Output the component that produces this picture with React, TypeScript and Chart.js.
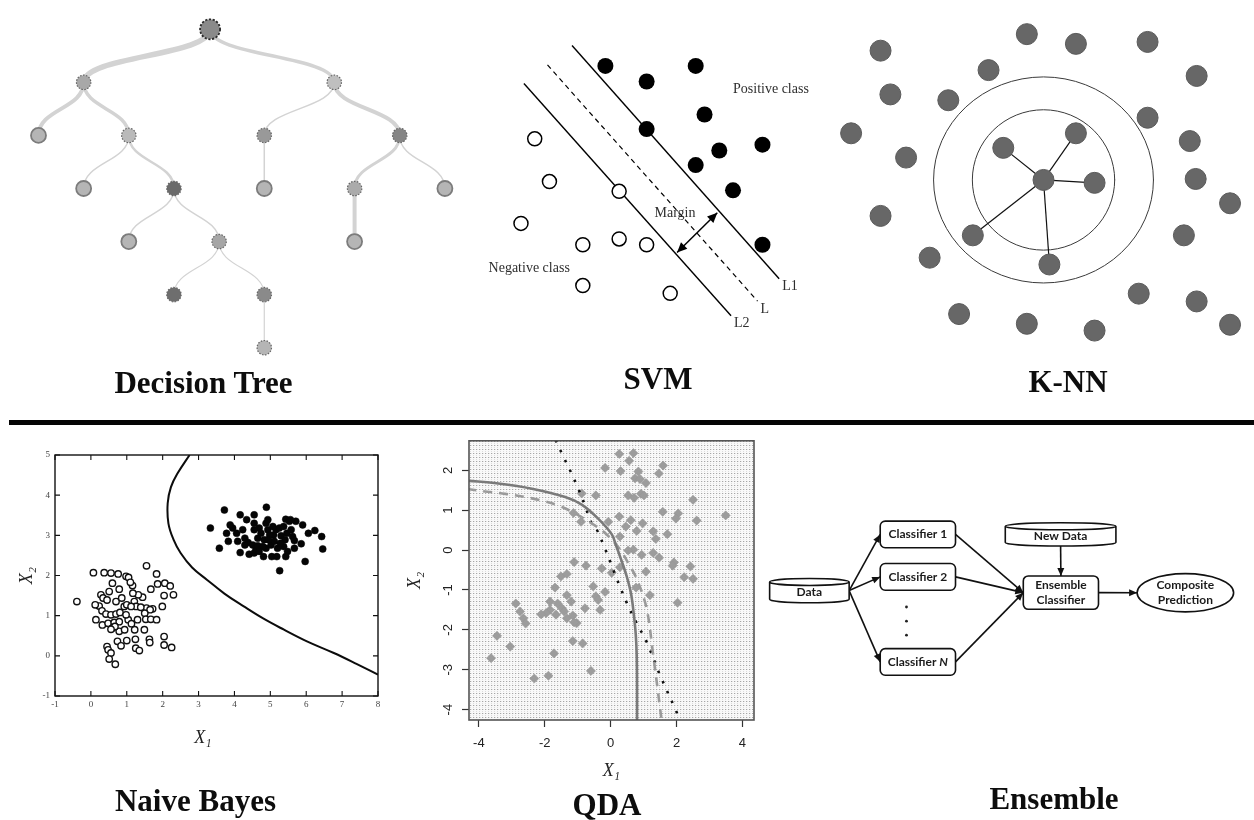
import React, { useEffect, useRef } from "react";
import { Chart, registerables } from "chart.js";

Chart.register(...registerables);
Chart.defaults.font.family = '"Liberation Sans", Arial, sans-serif';

/* ============================ DATA ============================ */

// ---- Decision tree: slot (column), depth level, parent, branch weight, leaf flag, node shade (0 black … 1 white)
const treeNodeSlot = [3.8, 1, 6.55, 0, 2, 5, 8, 1, 3, 5, 7, 9, 2, 4, 7, 3, 5, 5];
const treeNodeDepth = [0, 1, 1, 2, 2, 2, 2, 3, 3, 3, 3, 3, 4, 4, 4, 5, 5, 6];
const treeNodeParent = [-1, 0, 0, 1, 1, 2, 2, 4, 4, 5, 6, 6, 8, 8, 10, 13, 13, 16];
const treeBranchWeight = [0, 5.5, 3.5, 4, 3.5, 1.5, 4, 1.5, 2.5, 1.5, 3, 1.5, 1.5, 1.5, 4, 1.2, 1.2, 1.2];
const treeNodeIsLeaf = [0, 0, 0, 1, 0, 0, 0, 1, 0, 1, 0, 1, 1, 0, 1, 0, 0, 0];
const treeNodeShade = [0.54, 0.66, 0.75, 0.71, 0.73, 0.6, 0.52, 0.71, 0.42, 0.71, 0.67, 0.71, 0.71, 0.65, 0.71, 0.43, 0.54, 0.71];

// ---- SVM (feature space x1, x2)
const svmPositive = [[12.5, 27.4], [21.7, 27.4], [16.7, 25.8], [22.6, 22.4], [16.7, 20.9], [24.1, 18.7], [28.5, 19.3], [21.7, 17.2], [25.5, 14.6], [28.5, 9.0]];
const svmNegative = [[5.3, 19.9], [6.8, 15.5], [13.9, 14.5], [3.9, 11.2], [10.2, 9.0], [13.9, 9.6], [16.7, 9.0], [10.2, 4.8], [19.1, 4.0]];
const svmLineNames = ["L1", "L", "L2"];
const svmLineFrom = [[9.1, 29.5], [6.6, 27.5], [4.2, 25.6]];
const svmLineTo = [[30.2, 5.5], [28.0, 3.2], [25.3, 1.7]];
const svmNotes = ["Positive class", "Negative class", "Margin"];
const svmNoteAt = [[25.5, 25.0], [0.6, 6.6], [17.5, 12.2]];
const svmMarginFrom = [23.9, 12.3];
const svmMarginTo = [19.8, 8.2];

// ---- K-NN (relative to the query point)
const knnOthers = [[-16.6, 13.3], [-1.7, 15.0], [3.3, 14.0], [10.6, 14.2], [-5.6, 11.3], [15.6, 10.7], [-15.6, 8.8], [-9.7, 8.2], [10.6, 6.4], [-19.6, 4.8], [14.9, 4.0], [-14.0, 2.3], [15.5, 0.1], [19.0, -2.4], [-16.6, -3.7], [14.3, -5.7], [-11.6, -8.0], [9.7, -11.7], [15.6, -12.5], [-8.6, -13.8], [-1.7, -14.8], [5.2, -15.5], [19.0, -14.9]];
const knnNeighbors = [[3.3, 4.8], [-4.1, 3.3], [5.2, -0.3], [-7.2, -5.7], [0.6, -8.7]];
const knnQuery = [0, 0];
const knnRadii = [[7.25, 7.22], [11.2, 10.6]];

// ---- Naive Bayes (X1, X2)
const nbClassOpen = [[-0.39, 1.35], [0.07, 2.07], [0.37, 2.07], [0.56, 2.06], [0.76, 2.04], [0.98, 1.98], [1.05, 1.95], [1.55, 2.24], [1.83, 2.04], [1.86, 1.79], [2.06, 1.81], [2.21, 1.74], [2.3, 1.52], [2.04, 1.5], [1.67, 1.66], [1.99, 1.23], [1.72, 1.17], [1.55, 1.19], [1.44, 1.46], [1.32, 1.52], [1.17, 1.56], [1.16, 1.75], [1.1, 1.83], [0.79, 1.66], [0.6, 1.81], [0.51, 1.6], [0.28, 1.52], [0.34, 1.44], [0.45, 1.39], [0.7, 1.35], [0.86, 1.44], [0.93, 1.23], [1.0, 1.27], [1.21, 1.35], [1.26, 1.23], [1.39, 1.21], [1.65, 1.15], [1.5, 1.06], [0.23, 1.24], [0.12, 1.27], [0.31, 1.12], [0.42, 1.04], [0.56, 1.02], [0.7, 1.04], [0.81, 1.08], [0.14, 0.9], [0.32, 0.77], [0.48, 0.81], [0.65, 0.83], [0.79, 0.85], [1.04, 0.9], [1.3, 0.9], [1.53, 0.91], [1.67, 0.91], [1.83, 0.9], [0.6, 0.69], [0.79, 0.61], [0.94, 0.65], [1.22, 0.65], [1.49, 0.65], [0.67, 0.73], [1.13, 0.8], [1.63, 0.41], [1.64, 0.33], [2.04, 0.48], [2.04, 0.27], [2.25, 0.21], [1.24, 0.41], [1.0, 0.38], [0.74, 0.36], [0.84, 0.25], [0.45, 0.23], [0.48, 0.15], [1.25, 0.19], [1.35, 0.13], [0.56, 0.07], [0.51, -0.08], [0.68, -0.21], [0.56, 0.66], [0.98, 1.02], [1.12, 1.23]];
const nbClassFilled = [[3.33, 3.18], [3.58, 2.68], [3.72, 3.63], [4.16, 3.51], [4.55, 3.51], [4.89, 3.7], [4.34, 3.39], [3.78, 3.05], [3.95, 3.18], [4.06, 3.05], [3.83, 2.85], [4.09, 2.85], [4.29, 2.93], [4.38, 2.82], [4.29, 2.76], [4.16, 2.57], [4.41, 2.53], [4.55, 2.56], [4.6, 2.64], [4.65, 2.93], [4.69, 3.18], [4.74, 3.05], [4.88, 3.3], [4.93, 3.14], [4.83, 2.89], [4.88, 2.68], [4.81, 2.47], [5.02, 2.76], [5.04, 2.47], [5.09, 3.01], [5.16, 3.14], [5.25, 3.18], [5.3, 2.99], [5.2, 2.68], [5.26, 2.12], [5.41, 2.89], [5.43, 3.4], [5.46, 3.05], [5.48, 2.6], [5.43, 2.47], [5.53, 3.35], [5.58, 3.14], [5.62, 2.97], [5.67, 2.87], [5.71, 3.35], [5.9, 3.26], [5.86, 2.79], [5.97, 2.35], [6.06, 3.05], [6.24, 3.12], [6.43, 2.97], [6.46, 2.66], [5.11, 2.85], [4.98, 3.01], [4.55, 3.14], [4.23, 3.14], [4.51, 2.76], [4.65, 2.74], [5.37, 2.72], [5.18, 2.47], [5.67, 2.68], [4.55, 3.3], [4.93, 3.39], [5.28, 2.8], [4.79, 2.72], [3.88, 3.26], [4.95, 2.89], [5.07, 3.22], [5.37, 3.22], [5.56, 3.39], [4.69, 2.6]];
const nbBoundaryX1 = [2.75, 2.42, 2.23, 2.14, 2.16, 2.3, 2.5, 2.82, 3.24, 3.72, 4.26, 4.8, 5.38, 6.02, 6.77, 7.4, 8.0];
const nbBoundaryX2 = [5.0, 4.55, 4.2, 3.8, 3.3, 2.9, 2.56, 2.2, 1.89, 1.55, 1.23, 0.93, 0.65, 0.36, 0.07, -0.2, -0.47];
const nbTicksX1 = [-1, 0, 1, 2, 3, 4, 5, 6, 7, 8];
const nbTicksX2 = [-1, 0, 1, 2, 3, 4, 5];

// ---- QDA (X1, X2)
const qdaPoints = [[0.26, 2.41], [0.69, 2.43], [0.56, 2.24], [-0.17, 2.06], [0.3, 1.98], [0.84, 1.97], [1.59, 2.12], [1.46, 1.92], [0.74, 1.8], [0.89, 1.78], [1.07, 1.68], [-0.88, 1.42], [-0.45, 1.37], [0.53, 1.37], [0.71, 1.31], [0.92, 1.41], [1.01, 1.37], [2.5, 1.26], [1.58, 0.96], [2.05, 0.92], [1.98, 0.79], [2.61, 0.74], [3.49, 0.87], [-1.13, 0.93], [-0.9, 0.71], [-0.07, 0.71], [0.26, 0.84], [0.61, 0.75], [0.46, 0.59], [0.97, 0.67], [0.79, 0.48], [1.29, 0.47], [1.72, 0.4], [1.37, 0.28], [0.28, 0.34], [0.69, 0.01], [0.53, -0.01], [1.29, -0.07], [1.47, -0.19], [0.94, -0.12], [1.92, -0.31], [1.88, -0.39], [2.42, -0.41], [2.23, -0.68], [2.5, -0.72], [1.07, -0.54], [0.28, -0.43], [0.03, -0.57], [-0.27, -0.46], [-1.11, -0.3], [-0.75, -0.39], [0.77, -0.94], [1.19, -1.13], [2.03, -1.32], [-1.51, -0.66], [-1.33, -0.6], [-1.69, -0.94], [-1.33, -1.13], [-0.53, -0.91], [-0.17, -1.05], [-0.45, -1.16], [-0.38, -1.25], [-1.84, -1.29], [-1.61, -1.34], [-1.2, -1.29], [-1.84, -1.5], [-1.48, -1.46], [-1.41, -1.54], [-1.66, -1.62], [-1.33, -1.71], [-1.15, -1.64], [-1.03, -1.83], [-1.96, -1.58], [-2.11, -1.61], [-0.78, -1.46], [-0.32, -1.5], [-2.88, -1.34], [-2.75, -1.54], [-2.65, -1.71], [-2.58, -1.84], [-3.45, -2.15], [-3.05, -2.42], [-3.63, -2.71], [-1.15, -2.28], [-0.85, -2.34], [-1.72, -2.59], [-0.6, -3.03], [-2.32, -3.22], [-1.89, -3.15], [-1.11, -1.81]];
const qdaSolidX1 = [-4.35, -3.41, -2.39, -1.38, -0.88, -0.38, 0.03, 0.16, 0.28, 0.48, 0.62, 0.7, 0.76, 0.79, 0.8, 0.8];
const qdaSolidX2 = [1.74, 1.67, 1.54, 1.33, 1.14, 0.79, 0.4, 0.12, -0.15, -0.64, -1.1, -1.6, -2.1, -2.63, -3.4, -4.3];
const qdaDashedX1 = [-4.35, -3.81, -3.2, -2.6, -2.09, -1.59, -1.08, -0.58, -0.17, 0.28, 0.55, 0.79, 1.09, 1.29, 1.42, 1.55];
const qdaDashedX2 = [1.53, 1.47, 1.41, 1.33, 1.24, 1.12, 0.92, 0.67, 0.43, 0.02, -0.35, -0.72, -1.46, -2.63, -3.45, -4.3];
const qdaDottedX1 = [-1.67, -1.44, -1.2, -0.98, -0.78, -0.6, -0.42, -0.19, 0.01, 0.2, 0.53, 0.8, 1.09, 1.49, 2.0, 2.12];
const qdaDottedX2 = [2.76, 2.35, 1.94, 1.53, 1.12, 0.71, 0.51, 0.07, -0.34, -0.75, -1.4, -1.85, -2.3, -3.12, -4.06, -4.3];
const qdaTicksX1 = [-4, -2, 0, 2, 4];
const qdaTicksX2 = [-4, -3, -2, -1, 0, 1, 2];

// ---- Ensemble flow diagram
const ensNodeIds = ["data", "c1", "c2", "cN", "newData", "ensemble", "composite"];
const ensNodeLabels = [["Data"], ["Classifier 1"], ["Classifier 2"], ["Classifier N"], ["New Data"], ["Ensemble", "Classifier"], ["Composite", "Prediction"]];
const ensNodeShapes = ["cylinder", "box", "box", "box", "cylinder", "box", "ellipse"];
const ensLinks = [["data", "c1"], ["data", "c2"], ["data", "cN"], ["c1", "ensemble"], ["c2", "ensemble"], ["cN", "ensemble"], ["newData", "ensemble"], ["ensemble", "composite"]];
const ensEllipsis = [[15.17, 19.27], [15.17, 20.73], [15.17, 22.17]];

// Panel titles
const panelTitles = ["Decision Tree", "SVM", "K-NN", "Naive Bayes", "QDA", "Ensemble"];

/* ============================ LAYOUT ============================ */

const W = 1254;
const H = 820;
// flow-diagram layout in 10px grid units: [cx, cy, w, h]
const ENS_LAYOUT = [[5.28, 17.58, 8.1, 2.5], [16.33, 11.8, 7.67, 2.74], [16.33, 16.17, 7.67, 2.74], [16.33, 24.92, 7.67, 2.74], [30.87, 11.8, 11.27, 2.4], [30.9, 17.79, 7.66, 3.43], [43.58, 17.8, 9.83, 3.94]];
const TITLE_POS = [[203.5, 393], [658, 389], [1068, 392], [195.5, 811], [607, 815], [1054, 809]];

function frame(originPx: number, pxPerUnit: number, sizePx: number, dir: string) {
  if (dir === "up") return { min: -(sizePx - originPx) / pxPerUnit, max: originPx / pxPerUnit, reverse: false };
  return { min: -originPx / pxPerUnit, max: (sizePx - originPx) / pxPerUnit, reverse: dir === "down" };
}
function hiddenScale(axis: string, f: any) {
  return { type: "linear", axis, display: false, min: f.min, max: f.max, reverse: f.reverse };
}
const toPts = (arr: number[][]) => arr.map(([x, y]) => ({ x, y }));
const gray = (s: number) => {
  const v = Math.round(255 * s);
  return `rgb(${v},${v},${v})`;
};

function arrowHead(ctx: CanvasRenderingContext2D, x0: number, y0: number, x1: number, y1: number, len: number, half: number) {
  const a = Math.atan2(y1 - y0, x1 - x0);
  const c = Math.cos(a), s = Math.sin(a);
  ctx.beginPath();
  ctx.moveTo(x1, y1);
  ctx.lineTo(x1 - len * c + half * s, y1 - len * s - half * c);
  ctx.lineTo(x1 - len * c - half * s, y1 - len * s + half * c);
  ctx.closePath();
  ctx.fill();
}

const ENS_FONT = '700 12px Lato, "Open Sans", sans-serif';
const ENS_FONT_IT = 'italic 700 12px Lato, "Open Sans", sans-serif';

function drawEnsemble(chart: any) {
  const ctx: CanvasRenderingContext2D = chart.ctx;
  const X = chart.scales.xEns, Y = chart.scales.yEns;
  const geo: any = {};
  ensNodeIds.forEach((id, i) => {
    const [cx, cy, w, h] = ENS_LAYOUT[i];
    const pcx = X.getPixelForValue(cx), pcy = Y.getPixelForValue(cy);
    geo[id] = {
      cx: pcx,
      cy: pcy,
      w: Math.abs(X.getPixelForValue(cx + w) - pcx),
      h: Math.abs(Y.getPixelForValue(cy + h) - pcy),
      shape: ensNodeShapes[i],
      label: ensNodeLabels[i],
    };
  });
  ctx.save();
  ctx.strokeStyle = "#111";
  ctx.fillStyle = "#111";
  ctx.lineWidth = 1.6;
  ensLinks.forEach(([a, b]) => {
    const A = geo[a], B = geo[b];
    let x0, y0, x1, y1;
    if (Math.abs(A.cx - B.cx) < 6) {
      x0 = A.cx; y0 = A.cy + A.h / 2; x1 = B.cx; y1 = B.cy - B.h / 2;
    } else {
      x0 = A.cx + A.w / 2; y0 = A.cy; x1 = B.cx - B.w / 2; y1 = B.cy;
    }
    ctx.beginPath();
    ctx.moveTo(x0, y0);
    ctx.lineTo(x1, y1);
    ctx.stroke();
    arrowHead(ctx, x0, y0, x1, y1, 8, 3.5);
  });
  Object.keys(geo).forEach((id) => {
    const g = geo[id];
    const l = g.cx - g.w / 2, r = g.cx + g.w / 2, t = g.cy - g.h / 2, b = g.cy + g.h / 2;
    ctx.beginPath();
    let textY = g.cy;
    if (g.shape === "box") {
      ctx.roundRect(l, t, g.w, g.h, 5);
    } else if (g.shape === "ellipse") {
      ctx.ellipse(g.cx, g.cy, g.w / 2, g.h / 2, 0, 0, Math.PI * 2);
    } else {
      const ry = 3.5;
      ctx.moveTo(l, t + ry);
      ctx.lineTo(l, b - ry);
      ctx.ellipse(g.cx, b - ry, g.w / 2, ry, 0, Math.PI, 0, true);
      ctx.lineTo(r, t + ry);
      ctx.ellipse(g.cx, t + ry, g.w / 2, ry, 0, 0, Math.PI * 2);
      textY = g.cy + 2;
    }
    ctx.fillStyle = "#fff";
    ctx.fill();
    ctx.stroke();
    ctx.fillStyle = "#1b1b1b";
    ctx.textBaseline = "middle";
    const n = g.label.length;
    g.label.forEach((line: string, k: number) => {
      const y = textY + (k - (n - 1) / 2) * 15;
      if (line.endsWith(" N")) {
        const head = line.slice(0, -1);
        ctx.font = ENS_FONT;
        const w1 = ctx.measureText(head).width;
        ctx.font = ENS_FONT_IT;
        const w2 = ctx.measureText("N").width;
        const start = g.cx - (w1 + w2) / 2;
        ctx.textAlign = "left";
        ctx.font = ENS_FONT;
        ctx.fillText(head, start, y);
        ctx.font = ENS_FONT_IT;
        ctx.fillText("N", start + w1, y);
      } else {
        ctx.font = ENS_FONT;
        ctx.textAlign = "center";
        ctx.fillText(line, g.cx, y);
      }
    });
    ctx.fillStyle = "#111";
  });
  ctx.restore();
}

const diagramPlugin = {
  id: "diagram",
  beforeDatasetsDraw(chart: any) {
    const ctx: CanvasRenderingContext2D = chart.ctx;
    const tx = chart.scales.xTree, ty = chart.scales.yTree;
    ctx.save();
    ctx.strokeStyle = "#d3d3d3";
    ctx.lineCap = "round";
    treeNodeParent.forEach((p, i) => {
      if (p < 0) return;
      const x0 = tx.getPixelForValue(treeNodeSlot[p]);
      const y0 = ty.getPixelForValue(treeNodeDepth[p]);
      const x1 = tx.getPixelForValue(treeNodeSlot[i]);
      const y1 = ty.getPixelForValue(treeNodeDepth[i]);
      const my = (y0 + y1) / 2;
      ctx.lineWidth = treeBranchWeight[i];
      ctx.beginPath();
      ctx.moveTo(x0, y0);
      ctx.bezierCurveTo(x0, my, x1, my, x1, y1);
      ctx.stroke();
    });
    const kx = chart.scales.xKnn, ky = chart.scales.yKnn;
    const cx = kx.getPixelForValue(knnQuery[0]), cy = ky.getPixelForValue(knnQuery[1]);
    ctx.strokeStyle = "#3a3a3a";
    ctx.lineWidth = 1;
    knnRadii.forEach(([rx, ry]) => {
      ctx.beginPath();
      ctx.ellipse(cx, cy, Math.abs(kx.getPixelForValue(knnQuery[0] + rx) - cx), Math.abs(ky.getPixelForValue(knnQuery[1] + ry) - cy), 0, 0, Math.PI * 2);
      ctx.stroke();
    });
    ctx.restore();
  },
  afterDatasetsDraw(chart: any) {
    const ctx: CanvasRenderingContext2D = chart.ctx;
    const tx = chart.scales.xTree, ty = chart.scales.yTree;
    ctx.save();
    treeNodeSlot.forEach((s, i) => {
      if (treeNodeIsLeaf[i]) return;
      const root = treeNodeParent[i] < 0;
      ctx.setLineDash(root ? [2.2, 1.6] : [1.6, 1.4]);
      ctx.strokeStyle = root ? "#2a2a2a" : "#666";
      ctx.lineWidth = root ? 1.8 : 1.2;
      ctx.beginPath();
      ctx.arc(tx.getPixelForValue(s), ty.getPixelForValue(treeNodeDepth[i]), root ? 10 : 7.2, 0, Math.PI * 2);
      ctx.stroke();
    });
    ctx.setLineDash([]);

    // SVM annotations
    const sx = chart.scales.xSvm, sy = chart.scales.ySvm;
    ctx.font = '14px "Liberation Serif", serif';
    ctx.fillStyle = "#2e2e2e";
    ctx.textBaseline = "middle";
    ctx.textAlign = "left";
    svmNotes.forEach((t, i) => ctx.fillText(t, sx.getPixelForValue(svmNoteAt[i][0]), sy.getPixelForValue(svmNoteAt[i][1])));
    svmLineNames.forEach((n, i) => ctx.fillText(n, sx.getPixelForValue(svmLineTo[i][0]) + 3, sy.getPixelForValue(svmLineTo[i][1]) + 8));
    const ax = sx.getPixelForValue(svmMarginFrom[0]), ay = sy.getPixelForValue(svmMarginFrom[1]);
    const bx = sx.getPixelForValue(svmMarginTo[0]), by = sy.getPixelForValue(svmMarginTo[1]);
    ctx.strokeStyle = "#000";
    ctx.fillStyle = "#000";
    ctx.lineWidth = 1.5;
    ctx.beginPath();
    ctx.moveTo(ax, ay);
    ctx.lineTo(bx, by);
    ctx.stroke();
    arrowHead(ctx, ax, ay, bx, by, 10, 4.5);
    arrowHead(ctx, bx, by, ax, ay, 10, 4.5);
    ctx.restore();

    drawEnsemble(chart);
  },
};

function makeDiagram(canvas: HTMLCanvasElement) {
  const line = (a: number[], b: number[], xs: string, ys: string, extra: any) => ({
    data: [{ x: a[0], y: a[1] }, { x: b[0], y: b[1] }],
    showLine: true,
    pointRadius: 0,
    fill: false,
    xAxisID: xs,
    yAxisID: ys,
    order: 3,
    ...extra,
  });
  return new Chart(canvas, {
    type: "scatter",
    data: {
      datasets: [
        {
          data: treeNodeSlot.map((s, i) => ({ x: s, y: treeNodeDepth[i] })),
          xAxisID: "xTree",
          yAxisID: "yTree",
          order: 1,
          pointRadius: treeNodeDepth.map((d, i) => (d === 0 ? 10 : treeNodeIsLeaf[i] ? 7.5 : 7.2)),
          pointBackgroundColor: treeNodeShade.map(gray),
          pointBorderColor: "#7c7c7c",
          pointBorderWidth: treeNodeIsLeaf.map((l) => (l ? 1.8 : 0)),
        },
        {
          data: toPts(svmPositive),
          xAxisID: "xSvm",
          yAxisID: "ySvm",
          order: 1,
          pointRadius: 8,
          pointBackgroundColor: "#000",
          pointBorderWidth: 0,
        },
        {
          data: toPts(svmNegative),
          xAxisID: "xSvm",
          yAxisID: "ySvm",
          order: 1,
          pointRadius: 7,
          pointBackgroundColor: "#fff",
          pointBorderColor: "#000",
          pointBorderWidth: 1.5,
        },
        ...svmLineNames.map((n, i) =>
          line(svmLineFrom[i], svmLineTo[i], "xSvm", "ySvm", {
            borderColor: "#000",
            borderWidth: n === "L" ? 1.2 : 1.4,
            borderDash: n === "L" ? [5, 4] : [],
          })
        ),
        ...knnNeighbors.map((p) => line(knnQuery, p, "xKnn", "yKnn", { borderColor: "#111", borderWidth: 1.2 })),
        {
          data: toPts([...knnOthers, ...knnNeighbors, knnQuery]),
          xAxisID: "xKnn",
          yAxisID: "yKnn",
          order: 1,
          pointRadius: 10.5,
          pointBackgroundColor: "#676767",
          pointBorderColor: "#5a5a5a",
          pointBorderWidth: 1,
        },
        {
          data: toPts(ensEllipsis),
          xAxisID: "xEns",
          yAxisID: "yEns",
          order: 1,
          pointRadius: 1.4,
          pointBackgroundColor: "#222",
          pointBorderWidth: 0,
        },
      ],
    },
    options: {
      responsive: false,
      animation: false,
      devicePixelRatio: 1,
      events: [],
      layout: { padding: 0 },
      plugins: { legend: { display: false }, tooltip: { enabled: false }, title: { display: false } },
      scales: {
        x: hiddenScale("x", frame(0, 1, W, "right")),
        y: hiddenScale("y", frame(0, 1, H, "down")),
        xTree: hiddenScale("x", frame(27.5, 46, W, "right")),
        yTree: hiddenScale("y", frame(18.3, 54.6, H, "down")),
        xSvm: hiddenScale("x", frame(480, 10, W, "right")),
        ySvm: hiddenScale("y", frame(330, 10, H, "up")),
        xKnn: hiddenScale("x", frame(1051.3, 10, W, "right")),
        yKnn: hiddenScale("y", frame(173.3, 10, H, "up")),
        xEns: hiddenScale("x", frame(760, 10, W, "right")),
        yEns: hiddenScale("y", frame(420, 10, H, "down")),
      },
    } as any,
    plugins: [diagramPlugin],
  } as any);
}

const nbFramePlugin = {
  id: "nbFrame",
  afterDatasetsDraw(chart: any) {
    const { ctx, chartArea: a, scales } = chart;
    ctx.save();
    ctx.strokeStyle = "#111";
    ctx.lineWidth = 1.4;
    ctx.strokeRect(a.left, a.top, a.right - a.left, a.bottom - a.top);
    ctx.lineWidth = 1.1;
    ctx.beginPath();
    scales.x.ticks.forEach((t: any) => {
      const p = scales.x.getPixelForValue(t.value);
      ctx.moveTo(p, a.bottom);
      ctx.lineTo(p, a.bottom - 5);
      ctx.moveTo(p, a.top);
      ctx.lineTo(p, a.top + 5);
    });
    scales.y.ticks.forEach((t: any) => {
      const p = scales.y.getPixelForValue(t.value);
      ctx.moveTo(a.left, p);
      ctx.lineTo(a.left + 5, p);
      ctx.moveTo(a.right, p);
      ctx.lineTo(a.right - 5, p);
    });
    ctx.stroke();
    ctx.restore();
  },
};

function makeNB(canvas: HTMLCanvasElement) {
  const tickFont = { family: '"Liberation Serif", serif', size: 9 };
  const titleFont = { family: '"Liberation Serif", serif', size: 18, style: "italic" };
  return new Chart(canvas, {
    type: "scatter",
    data: {
      datasets: [
        {
          data: nbBoundaryX1.map((x, i) => ({ x, y: nbBoundaryX2[i] })),
          showLine: true,
          pointRadius: 0,
          borderColor: "#0c0c0c",
          borderWidth: 2,
          tension: 0.4,
          fill: false,
          order: 0,
        },
        {
          data: toPts(nbClassFilled),
          pointRadius: 3.5,
          pointBackgroundColor: "#050505",
          pointBorderColor: "#050505",
          pointBorderWidth: 0.5,
          order: 1,
        },
        {
          data: toPts(nbClassOpen),
          pointRadius: 3.2,
          pointBackgroundColor: "#fff",
          pointBorderColor: "#111",
          pointBorderWidth: 1.4,
          order: 1,
        },
      ],
    },
    options: {
      responsive: false,
      animation: false,
      devicePixelRatio: 1,
      events: [],
      layout: { padding: { top: 15, right: 22, left: 0, bottom: 0 } },
      plugins: { legend: { display: false }, tooltip: { enabled: false } },
      scales: {
        x: {
          type: "linear",
          min: -1,
          max: 8,
          afterBuildTicks: (s: any) => {
            s.ticks = nbTicksX1.map((v) => ({ value: v }));
          },
          ticks: { font: tickFont, color: "#444", padding: 3, maxRotation: 0 },
          grid: { display: false, drawTicks: false },
          border: { display: false },
          title: { display: true, text: "X\u2081\u2003\u2002", font: titleFont, color: "#222", padding: { top: 0, bottom: 21 } },
          afterFit: (s: any) => {
            s.height = 74;
          },
        },
        y: {
          type: "linear",
          min: -1,
          max: 5,
          afterBuildTicks: (s: any) => {
            s.ticks = nbTicksX2.map((v) => ({ value: v }));
          },
          ticks: { font: tickFont, color: "#444", padding: 5 },
          grid: { display: false, drawTicks: false },
          border: { display: false },
          title: { display: true, text: "X\u2082", font: titleFont, color: "#222", padding: { top: 16, bottom: 0 } },
          afterFit: (s: any) => {
            s.width = 55;
          },
        },
      },
    } as any,
    plugins: [nbFramePlugin],
  } as any);
}

const qdaBackdropPlugin = {
  id: "qdaBackdrop",
  beforeDatasetsDraw(chart: any) {
    const { ctx, chartArea: a } = chart;
    const tile = document.createElement("canvas");
    tile.width = 3;
    tile.height = 4;
    const t = tile.getContext("2d")!;
    t.fillStyle = "#f9f9f9";
    t.fillRect(0, 0, 3, 4);
    t.fillStyle = "#a6a6a6";
    t.fillRect(0, 0, 1, 1);
    t.fillStyle = "#dcdcdc";
    t.fillRect(0, 2, 1, 1);
    t.fillStyle = "#e4e4e4";
    t.fillRect(1, 0, 1, 1);
    ctx.save();
    ctx.fillStyle = ctx.createPattern(tile, "repeat");
    ctx.fillRect(a.left, a.top, a.right - a.left, a.bottom - a.top);
    ctx.restore();
  },
  afterDatasetsDraw(chart: any) {
    const { ctx, chartArea: a } = chart;
    ctx.save();
    ctx.strokeStyle = "#555";
    ctx.lineWidth = 1.6;
    ctx.strokeRect(a.left, a.top, a.right - a.left, a.bottom - a.top);
    ctx.restore();
  },
};

function makeQDA(canvas: HTMLCanvasElement) {
  const tickFont = { family: '"Liberation Sans", Arial, sans-serif', size: 13 };
  const titleFont = { family: '"Liberation Serif", serif', size: 18, style: "italic" };
  const grid = { display: true, drawOnChartArea: false, drawTicks: true, tickLength: 7, tickColor: "#333", tickWidth: 1.2 };
  const curve = (xs: number[], ys: number[], extra: any) => ({
    data: xs.map((x, i) => ({ x, y: ys[i] })),
    showLine: true,
    pointRadius: 0,
    fill: false,
    tension: 0.35,
    order: 0,
    ...extra,
  });
  return new Chart(canvas, {
    type: "scatter",
    data: {
      datasets: [
        curve(qdaSolidX1, qdaSolidX2, { borderColor: "#7a7a7a", borderWidth: 2.6 }),
        curve(qdaDashedX1, qdaDashedX2, { borderColor: "#9a9a9a", borderWidth: 2.6, borderDash: [9, 7] }),
        curve(qdaDottedX1, qdaDottedX2, { borderColor: "#111", borderWidth: 2.6, borderDash: [2.5, 8.5] }),
        {
          data: toPts(qdaPoints),
          pointStyle: "rectRot",
          pointRadius: 4.6,
          pointBackgroundColor: "#9c9c9c",
          pointBorderColor: "#959595",
          pointBorderWidth: 0.5,
          order: 1,
        },
      ],
    },
    options: {
      responsive: false,
      animation: false,
      devicePixelRatio: 1,
      events: [],
      layout: { padding: { top: 10, right: 16, left: 0, bottom: 0 } },
      plugins: { legend: { display: false }, tooltip: { enabled: false } },
      scales: {
        x: {
          type: "linear",
          min: -4.3,
          max: 4.35,
          afterBuildTicks: (s: any) => {
            s.ticks = qdaTicksX1.map((v) => ({ value: v }));
          },
          ticks: { font: tickFont, color: "#222", padding: 9, maxRotation: 0 },
          grid,
          border: { display: false },
          title: { display: true, text: "X\u2081", font: titleFont, color: "#222", padding: { top: 0, bottom: 2.5 } },
          afterFit: (s: any) => {
            s.height = 65;
          },
        },
        y: {
          type: "linear",
          min: -4.26,
          max: 2.74,
          afterBuildTicks: (s: any) => {
            s.ticks = qdaTicksX2.map((v) => ({ value: v }));
          },
          ticks: { font: tickFont, color: "#222", padding: 8, minRotation: 90, maxRotation: 90, crossAlign: "center" },
          grid,
          border: { display: false },
          title: { display: true, text: "X\u2082", font: titleFont, color: "#222", padding: { top: 9, bottom: 0 } },
          afterFit: (s: any) => {
            s.width = 74;
          },
        },
      },
    } as any,
    plugins: [qdaBackdropPlugin],
  } as any);
}

export default function App() {
  const diagRef = useRef<HTMLCanvasElement>(null);
  const nbRef = useRef<HTMLCanvasElement>(null);
  const qdaRef = useRef<HTMLCanvasElement>(null);

  useEffect(() => {
    const charts = [makeDiagram(diagRef.current!), makeNB(nbRef.current!), makeQDA(qdaRef.current!)];
    return () => charts.forEach((c) => c.destroy());
  }, []);

  return (
    <div style={{ position: "absolute", left: 0, top: 0, width: W, height: H, background: "#fff", overflow: "hidden" }}>
      <canvas ref={diagRef} width={W} height={H} style={{ position: "absolute", left: 0, top: 0 }} />
      <canvas ref={nbRef} width={400} height={330} style={{ position: "absolute", left: 0, top: 440 }} />
      <canvas ref={qdaRef} width={375} height={360} style={{ position: "absolute", left: 395, top: 425 }} />
      <div style={{ position: "absolute", left: 9, top: 420, width: W - 9, height: 5, background: "#050505" }} />
      {panelTitles.map((t, i) => (
        <div
          key={t}
          style={{
            position: "absolute",
            left: TITLE_POS[i][0] - 200,
            top: TITLE_POS[i][1] - 26,
            width: 400,
            textAlign: "center",
            font: 'bold 31px/31px "Liberation Serif", "Times New Roman", serif',
            color: "#0d0d0d",
            whiteSpace: "nowrap",
          }}
        >
          {t}
        </div>
      ))}
    </div>
  );
}
